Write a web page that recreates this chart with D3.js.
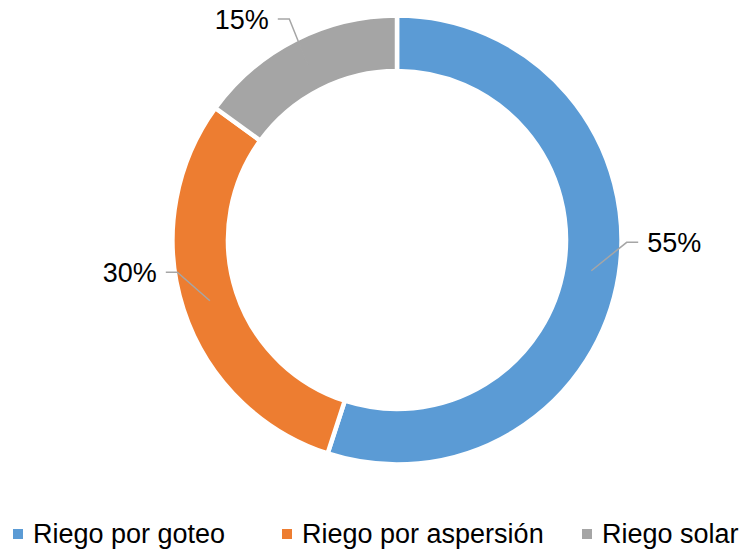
<!DOCTYPE html>
<html>
<head>
<meta charset="utf-8">
<script src="https://cdn.jsdelivr.net/npm/d3@7"></script>
<style>
  body { margin: 0; background: #fff; }
  svg { display: block; font-family: "Liberation Sans", Arial, sans-serif; }
</style>
</head>
<body>
<div id="chart"></div>
<script>
// data
let categories = ["Riego por goteo", "Riego por aspersión", "Riego solar"];
let shares = [55, 30, 15];
let labels = ["55%", "30%", "15%"];
let colors = ["#5B9BD5", "#ED7D31", "#A5A5A5"];

let svgWidth = 744, svgHeight = 551;
let cx = 397, cy = 240;
let outerR = 224.5, innerR = 169;

let svg = d3.select("#chart").append("svg")
  .attr("width", svgWidth)
  .attr("height", svgHeight);

let pie = d3.pie().sort(null).value(d => d);
let arcs = pie(shares);
let arc = d3.arc().innerRadius(innerR).outerRadius(outerR);
let midArc = d3.arc().innerRadius((innerR + outerR) / 2).outerRadius((innerR + outerR) / 2);

let g = svg.append("g").attr("transform", "translate(" + cx + "," + cy + ")");

g.selectAll("path.slice").data(arcs).enter()
  .append("path")
  .attr("class", "slice")
  .attr("d", arc)
  .style("fill", (d, i) => colors[i])
  .style("stroke", "#fff")
  .style("stroke-width", 4.5);

// label layout (elbow of leader, relative to centre) and which side the text sits
let labelLayout = [
  {ex: 229.7, ey: 2.3, side: 1},
  {ex: -219.7, ey: 32.3, side: -1},
  {ex: -107.7, ey: -221, side: -1}
];

arcs.forEach(function(d, i) {
  let p = midArc.centroid(d);
  let L = labelLayout[i];
  let endX = L.ex + L.side * 11.5;
  g.append("polyline")
    .attr("points", [p, [L.ex, L.ey], [endX, L.ey]].map(q => q.join(",")).join(" "))
    .style("fill", "none")
    .style("stroke", "#A6A6A6")
    .style("stroke-width", 1.5);
  g.append("text")
    .attr("x", endX + L.side * 9)
    .attr("y", L.ey + 9.5)
    .attr("text-anchor", L.side > 0 ? "start" : "end")
    .style("font-size", "27px")
    .style("fill", "#000")
    .text(labels[i]);
});

// legend, item start positions
let legendX = [13, 282, 582];
let legend = svg.append("g").attr("id", "legend");
let items = legend.selectAll("g").data(categories).enter()
  .append("g")
  .attr("transform", (d, i) => "translate(" + legendX[i] + ",0)");
items.append("rect")
  .attr("x", 0).attr("y", 529)
  .attr("width", 10).attr("height", 10)
  .style("fill", (d, i) => colors[i]);
items.append("text")
  .attr("x", 20).attr("y", 543)
  .style("font-size", "27px")
  .style("fill", "#000")
  .text(d => d);
</script>
</body>
</html>
